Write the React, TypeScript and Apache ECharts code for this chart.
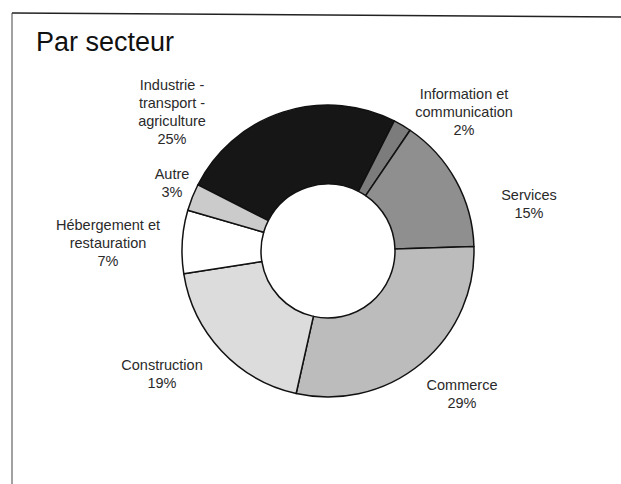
import React, { useEffect, useRef } from "react";
import * as echarts from "echarts";

const categories = [
  "Industrie -\ntransport -\nagriculture",
  "Information et\ncommunication",
  "Services",
  "Commerce",
  "Construction",
  "Hébergement et\nrestauration",
  "Autre",
];
const shares = [25, 2, 15, 29, 19, 7, 3];

const sliceColors = ["#161616", "#7c7c7c", "#8f8f8f", "#bcbcbc", "#dcdcdc", "#ffffff", "#cbcbcb"];
const labelPos: [number, number][] = [
  [172, 112],
  [464, 112],
  [529, 204],
  [462, 394],
  [162, 374],
  [108, 243],
  [172, 183],
];

export default function App() {
  const ref = useRef<HTMLDivElement>(null);
  useEffect(() => {
    if (!ref.current) return;
    const chart = echarts.init(ref.current, null, { renderer: "svg" });
    chart.setOption({
      animation: false,
      backgroundColor: "#ffffff",
      title: {
        text: "Par secteur",
        left: 36,
        top: 28,
        padding: 0,
        textStyle: {
          fontFamily: "Liberation Sans",
          fontSize: 27,
          fontWeight: "normal",
          color: "#111111",
        },
      },
      graphic: [
        {
          type: "line",
          shape: { x1: 12, y1: 13, x2: 621, y2: 17 },
          style: { stroke: "#222222", lineWidth: 1.5 },
        },
        {
          type: "line",
          shape: { x1: 12, y1: 13, x2: 12, y2: 484 },
          style: { stroke: "#444444", lineWidth: 1 },
        },
      ],
      series: [
        {
          type: "pie",
          center: [328, 251],
          radius: [67, 146],
          startAngle: 153,
          clockwise: true,
          avoidLabelOverlap: false,
          data: categories.map((name, i) => ({
            name,
            value: shares[i],
            itemStyle: { color: sliceColors[i] },
          })),
          itemStyle: { borderColor: "#111111", borderWidth: 1.5 },
          label: {
            show: true,
            position: "outside",
            formatter: (p: any) => `${p.name}\n${p.value}%`,
            fontFamily: "Liberation Sans",
            fontSize: 14.5,
            lineHeight: 18,
            color: "#2a2a2a",
            align: "center",
          },
          labelLine: { show: false },
          labelLayout: (params: any) => {
            const pos = labelPos[params.dataIndex];
            return { x: pos[0], y: pos[1], align: "center", verticalAlign: "middle" };
          },
          emphasis: { disabled: true },
        },
      ],
    });
    return () => chart.dispose();
  }, []);
  return (
    <div
      ref={ref}
      style={{ position: "fixed", left: 0, top: 0, width: 621, height: 484 }}
    />
  );
}
